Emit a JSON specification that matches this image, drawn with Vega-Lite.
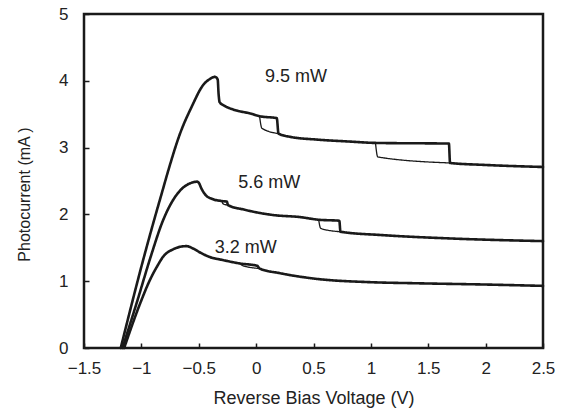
{
  "$schema": "https://vega.github.io/schema/vega-lite/v6.json",
  "width": 459,
  "height": 334,
  "autosize": "none",
  "padding": {"left": 84, "top": 14, "right": 20, "bottom": 65},
  "background": "white",
  "config": {
    "view": {"stroke": "#1a1a1a", "strokeWidth": 2.5},
    "font": "Liberation Sans",
    "axis": {"domain": false, "grid": false, "tickColor": "#1a1a1a", "tickWidth": 1.5, "labelColor": "#222", "titleColor": "#222", "labelFont": "Liberation Sans", "titleFont": "Liberation Sans", "titleFontWeight": "normal"}
  },
  "datasets": {
    "curves": [
      {"curve": "9.5 mW", "part": "main", "kind": "sweep", "seq": 1, "v": -1.18, "i": 0},
      {"curve": "9.5 mW", "part": "main", "kind": "sweep", "seq": 2, "v": -1.1, "i": 0.55},
      {"curve": "9.5 mW", "part": "main", "kind": "sweep", "seq": 3, "v": -1.015, "i": 1.12},
      {"curve": "9.5 mW", "part": "main", "kind": "sweep", "seq": 4, "v": -0.94, "i": 1.6},
      {"curve": "9.5 mW", "part": "main", "kind": "sweep", "seq": 5, "v": -0.88, "i": 1.97},
      {"curve": "9.5 mW", "part": "main", "kind": "sweep", "seq": 6, "v": -0.82, "i": 2.33},
      {"curve": "9.5 mW", "part": "main", "kind": "sweep", "seq": 7, "v": -0.765, "i": 2.66},
      {"curve": "9.5 mW", "part": "main", "kind": "sweep", "seq": 8, "v": -0.663, "i": 3.21},
      {"curve": "9.5 mW", "part": "main", "kind": "sweep", "seq": 9, "v": -0.562, "i": 3.61},
      {"curve": "9.5 mW", "part": "main", "kind": "sweep", "seq": 10, "v": -0.46, "i": 3.94},
      {"curve": "9.5 mW", "part": "main", "kind": "sweep", "seq": 11, "v": -0.4, "i": 4.03},
      {"curve": "9.5 mW", "part": "main", "kind": "sweep", "seq": 12, "v": -0.358, "i": 4.06},
      {"curve": "9.5 mW", "part": "main", "kind": "sweep", "seq": 13, "v": -0.335, "i": 4.02},
      {"curve": "9.5 mW", "part": "main", "kind": "sweep", "seq": 14, "v": -0.327, "i": 3.8},
      {"curve": "9.5 mW", "part": "main", "kind": "sweep", "seq": 15, "v": -0.318, "i": 3.68},
      {"curve": "9.5 mW", "part": "main", "kind": "sweep", "seq": 16, "v": -0.28, "i": 3.63},
      {"curve": "9.5 mW", "part": "main", "kind": "sweep", "seq": 17, "v": -0.2, "i": 3.57},
      {"curve": "9.5 mW", "part": "main", "kind": "sweep", "seq": 18, "v": -0.05, "i": 3.51},
      {"curve": "9.5 mW", "part": "main", "kind": "sweep", "seq": 19, "v": 0.03, "i": 3.47},
      {"curve": "9.5 mW", "part": "main", "kind": "sweep", "seq": 20, "v": 0.18, "i": 3.44},
      {"curve": "9.5 mW", "part": "main", "kind": "sweep", "seq": 21, "v": 0.195, "i": 3.21},
      {"curve": "9.5 mW", "part": "main", "kind": "sweep", "seq": 22, "v": 0.3, "i": 3.16},
      {"curve": "9.5 mW", "part": "main", "kind": "sweep", "seq": 23, "v": 0.53, "i": 3.12},
      {"curve": "9.5 mW", "part": "main", "kind": "sweep", "seq": 24, "v": 0.82, "i": 3.09},
      {"curve": "9.5 mW", "part": "main", "kind": "sweep", "seq": 25, "v": 1.04, "i": 3.07},
      {"curve": "9.5 mW", "part": "main", "kind": "sweep", "seq": 26, "v": 1.68, "i": 3.06},
      {"curve": "9.5 mW", "part": "main", "kind": "sweep", "seq": 27, "v": 1.69, "i": 2.77},
      {"curve": "9.5 mW", "part": "main", "kind": "sweep", "seq": 28, "v": 2.0, "i": 2.74},
      {"curve": "9.5 mW", "part": "main", "kind": "sweep", "seq": 29, "v": 2.5, "i": 2.71},
      {"curve": "9.5 mW", "part": "loop1", "kind": "return", "seq": 1, "v": 0.03, "i": 3.47},
      {"curve": "9.5 mW", "part": "loop1", "kind": "return", "seq": 2, "v": 0.05, "i": 3.29},
      {"curve": "9.5 mW", "part": "loop1", "kind": "return", "seq": 3, "v": 0.195, "i": 3.21},
      {"curve": "9.5 mW", "part": "loop2", "kind": "return", "seq": 1, "v": 1.04, "i": 3.07},
      {"curve": "9.5 mW", "part": "loop2", "kind": "return", "seq": 2, "v": 1.06, "i": 2.86},
      {"curve": "9.5 mW", "part": "loop2", "kind": "return", "seq": 3, "v": 1.69, "i": 2.77},

      {"curve": "5.6 mW", "part": "main", "kind": "sweep", "seq": 1, "v": -1.165, "i": 0},
      {"curve": "5.6 mW", "part": "main", "kind": "sweep", "seq": 2, "v": -1.04, "i": 0.68},
      {"curve": "5.6 mW", "part": "main", "kind": "sweep", "seq": 3, "v": -0.92, "i": 1.36},
      {"curve": "5.6 mW", "part": "main", "kind": "sweep", "seq": 4, "v": -0.809, "i": 1.92},
      {"curve": "5.6 mW", "part": "main", "kind": "sweep", "seq": 5, "v": -0.722, "i": 2.22},
      {"curve": "5.6 mW", "part": "main", "kind": "sweep", "seq": 6, "v": -0.65, "i": 2.38},
      {"curve": "5.6 mW", "part": "main", "kind": "sweep", "seq": 7, "v": -0.605, "i": 2.44},
      {"curve": "5.6 mW", "part": "main", "kind": "sweep", "seq": 8, "v": -0.55, "i": 2.48},
      {"curve": "5.6 mW", "part": "main", "kind": "sweep", "seq": 9, "v": -0.513, "i": 2.49},
      {"curve": "5.6 mW", "part": "main", "kind": "sweep", "seq": 10, "v": -0.495, "i": 2.46},
      {"curve": "5.6 mW", "part": "main", "kind": "sweep", "seq": 11, "v": -0.48, "i": 2.4},
      {"curve": "5.6 mW", "part": "main", "kind": "sweep", "seq": 12, "v": -0.44, "i": 2.29},
      {"curve": "5.6 mW", "part": "main", "kind": "sweep", "seq": 13, "v": -0.38, "i": 2.23},
      {"curve": "5.6 mW", "part": "main", "kind": "sweep", "seq": 14, "v": -0.3, "i": 2.2},
      {"curve": "5.6 mW", "part": "main", "kind": "sweep", "seq": 15, "v": -0.255, "i": 2.19},
      {"curve": "5.6 mW", "part": "main", "kind": "sweep", "seq": 16, "v": -0.245, "i": 2.14},
      {"curve": "5.6 mW", "part": "main", "kind": "sweep", "seq": 17, "v": -0.1, "i": 2.07},
      {"curve": "5.6 mW", "part": "main", "kind": "sweep", "seq": 18, "v": 0.15, "i": 1.99},
      {"curve": "5.6 mW", "part": "main", "kind": "sweep", "seq": 19, "v": 0.38, "i": 1.96},
      {"curve": "5.6 mW", "part": "main", "kind": "sweep", "seq": 20, "v": 0.545, "i": 1.92},
      {"curve": "5.6 mW", "part": "main", "kind": "sweep", "seq": 21, "v": 0.725, "i": 1.905},
      {"curve": "5.6 mW", "part": "main", "kind": "sweep", "seq": 22, "v": 0.735, "i": 1.74},
      {"curve": "5.6 mW", "part": "main", "kind": "sweep", "seq": 23, "v": 1.1, "i": 1.69},
      {"curve": "5.6 mW", "part": "main", "kind": "sweep", "seq": 24, "v": 1.69, "i": 1.64},
      {"curve": "5.6 mW", "part": "main", "kind": "sweep", "seq": 25, "v": 2.5, "i": 1.6},
      {"curve": "5.6 mW", "part": "loopA", "kind": "return", "seq": 1, "v": -0.3, "i": 2.2},
      {"curve": "5.6 mW", "part": "loopA", "kind": "return", "seq": 2, "v": -0.285, "i": 2.155},
      {"curve": "5.6 mW", "part": "loopA", "kind": "return", "seq": 3, "v": -0.245, "i": 2.14},
      {"curve": "5.6 mW", "part": "loopB", "kind": "return", "seq": 1, "v": 0.545, "i": 1.92},
      {"curve": "5.6 mW", "part": "loopB", "kind": "return", "seq": 2, "v": 0.563, "i": 1.79},
      {"curve": "5.6 mW", "part": "loopB", "kind": "return", "seq": 3, "v": 0.735, "i": 1.74},

      {"curve": "3.2 mW", "part": "main", "kind": "sweep", "seq": 1, "v": -1.15, "i": 0},
      {"curve": "3.2 mW", "part": "main", "kind": "sweep", "seq": 2, "v": -1.01, "i": 0.67},
      {"curve": "3.2 mW", "part": "main", "kind": "sweep", "seq": 3, "v": -0.925, "i": 1.02},
      {"curve": "3.2 mW", "part": "main", "kind": "sweep", "seq": 4, "v": -0.86, "i": 1.23},
      {"curve": "3.2 mW", "part": "main", "kind": "sweep", "seq": 5, "v": -0.809, "i": 1.37},
      {"curve": "3.2 mW", "part": "main", "kind": "sweep", "seq": 6, "v": -0.72, "i": 1.48},
      {"curve": "3.2 mW", "part": "main", "kind": "sweep", "seq": 7, "v": -0.663, "i": 1.515},
      {"curve": "3.2 mW", "part": "main", "kind": "sweep", "seq": 8, "v": -0.605, "i": 1.525},
      {"curve": "3.2 mW", "part": "main", "kind": "sweep", "seq": 9, "v": -0.55, "i": 1.49},
      {"curve": "3.2 mW", "part": "main", "kind": "sweep", "seq": 10, "v": -0.489, "i": 1.43},
      {"curve": "3.2 mW", "part": "main", "kind": "sweep", "seq": 11, "v": -0.4, "i": 1.36},
      {"curve": "3.2 mW", "part": "main", "kind": "sweep", "seq": 12, "v": -0.3, "i": 1.32},
      {"curve": "3.2 mW", "part": "main", "kind": "sweep", "seq": 13, "v": -0.14, "i": 1.265},
      {"curve": "3.2 mW", "part": "main", "kind": "sweep", "seq": 14, "v": 0.01, "i": 1.23},
      {"curve": "3.2 mW", "part": "main", "kind": "sweep", "seq": 15, "v": 0.03, "i": 1.19},
      {"curve": "3.2 mW", "part": "main", "kind": "sweep", "seq": 16, "v": 0.208, "i": 1.12},
      {"curve": "3.2 mW", "part": "main", "kind": "sweep", "seq": 17, "v": 0.5, "i": 1.04},
      {"curve": "3.2 mW", "part": "main", "kind": "sweep", "seq": 18, "v": 1.0, "i": 0.985},
      {"curve": "3.2 mW", "part": "main", "kind": "sweep", "seq": 19, "v": 1.37, "i": 0.97},
      {"curve": "3.2 mW", "part": "main", "kind": "sweep", "seq": 20, "v": 2.0, "i": 0.95},
      {"curve": "3.2 mW", "part": "main", "kind": "sweep", "seq": 21, "v": 2.5, "i": 0.93},
      {"curve": "3.2 mW", "part": "loop1", "kind": "return", "seq": 1, "v": -0.14, "i": 1.265},
      {"curve": "3.2 mW", "part": "loop1", "kind": "return", "seq": 2, "v": -0.12, "i": 1.235},
      {"curve": "3.2 mW", "part": "loop1", "kind": "return", "seq": 3, "v": 0.03, "i": 1.19}
    ],
    "labels": [
      {"text": "9.5 mW", "v": 0.347, "i": 4.06},
      {"text": "5.6 mW", "v": 0.115, "i": 2.47},
      {"text": "3.2 mW", "v": -0.09, "i": 1.49}
    ]
  },
  "layer": [
    {
      "data": {"name": "curves"},
      "mark": {"type": "line", "color": "#1a1a1a", "strokeJoin": "round", "strokeCap": "round", "interpolate": "monotone"},
      "encoding": {
        "x": {
          "field": "v", "type": "quantitative",
          "scale": {"domain": [-1.5, 2.5], "nice": false, "zero": false},
          "axis": {
            "title": "Reverse Bias Voltage (V)",
            "values": [-1.5, -1.25, -1, -0.75, -0.5, -0.25, 0, 0.25, 0.5, 0.75, 1, 1.25, 1.5, 1.75, 2, 2.25, 2.5],
            "format": "~g",
            "labelExpr": "datum.value % 0.5 == 0 ? datum.label : ''",
            "tickSize": -5,
            "labelPadding": 17,
            "labelFontSize": 17,
            "titleFontSize": 18,
            "titleBaseline": "alphabetic",
            "titleY": 55,
            "labelFlush": false,
            "labelOverlap": false
          }
        },
        "y": {
          "field": "i", "type": "quantitative",
          "scale": {"domain": [0, 5], "nice": false},
          "axis": {
            "title": "Photocurrent (mA )",
            "values": [0, 0.5, 1, 1.5, 2, 2.5, 3, 3.5, 4, 4.5, 5],
            "format": "~g",
            "labelExpr": "datum.value % 1 == 0 ? datum.label : ''",
            "tickSize": -5,
            "labelPadding": 21,
            "labelFontSize": 17,
            "titleFontSize": 16,
            "titleBaseline": "alphabetic",
            "titleX": -55,
            "titleY": 180,
            "labelFlush": false,
            "labelOverlap": false
          }
        },
        "detail": {"field": "part"},
        "order": {"field": "seq", "type": "quantitative"},
        "strokeWidth": {
          "field": "kind", "type": "nominal",
          "scale": {"domain": ["sweep", "return"], "range": [2.6, 1.3]},
          "legend": null
        },
        "strokeDash": {"field": "curve", "type": "nominal", "scale": {"range": [[1, 0]]}, "legend": null}
      }
    },
    {
      "data": {"name": "labels"},
      "mark": {"type": "text", "fontSize": 18, "color": "#222", "align": "center", "baseline": "middle", "font": "Liberation Sans"},
      "encoding": {
        "x": {"field": "v", "type": "quantitative"},
        "y": {"field": "i", "type": "quantitative"},
        "text": {"field": "text"}
      }
    }
  ]
}
